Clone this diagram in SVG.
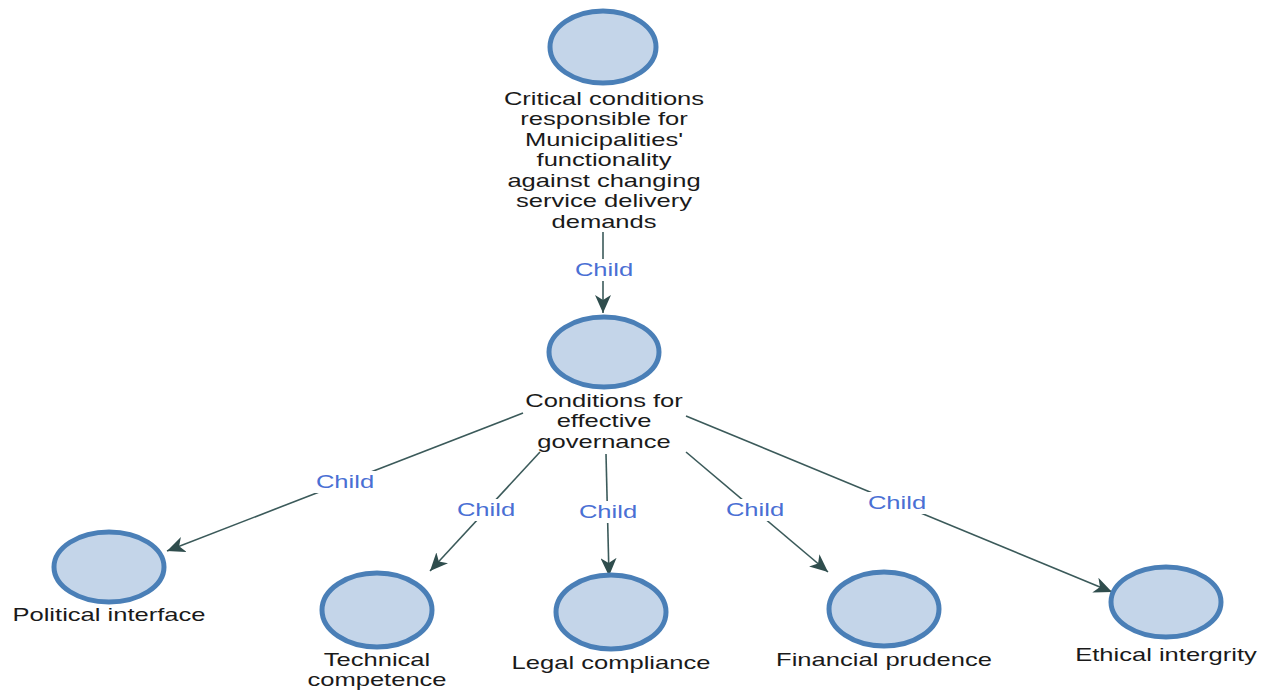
<svg xmlns="http://www.w3.org/2000/svg" width="1270" height="690" viewBox="0 0 1270 690">
<style>
.node ellipse{fill:#c4d5e9;stroke:#4a7fb7;stroke-width:5}
.lbl{font-family:"Liberation Sans",Arial,sans-serif;font-size:18px;fill:#1a1a1a;text-anchor:middle}
.edge{stroke:#3b5a5a;stroke-width:1.6;fill:none;marker-end:url(#arr)}
.ct{font-family:"Liberation Sans",Arial,sans-serif;font-size:18px;fill:#4a6fd4;text-anchor:middle}
.bg{fill:#ffffff}
</style>
<defs>
<marker id="arr" markerUnits="userSpaceOnUse" markerWidth="20" markerHeight="16" viewBox="0 0 20 16" refX="18" refY="8" orient="auto">
<path d="M0,0 L18,8 L0,16 L5,8 Z" fill="#2f4d4d"/>
</marker>
</defs>
<rect width="1270" height="690" fill="#ffffff"/>
<g id="connectors">
<line class="edge" x1="603" y1="232" x2="603" y2="313"/>
<line class="edge" x1="523" y1="413" x2="167" y2="551"/>
<line class="edge" x1="540" y1="452" x2="430" y2="571"/>
<line class="edge" x1="606" y1="454" x2="609" y2="576"/>
<line class="edge" x1="686" y1="452" x2="828" y2="572"/>
<line class="edge" x1="686" y1="416" x2="1112" y2="592"/>
<rect class="bg" x="572" y="259" width="62" height="22"/>
<rect class="bg" x="314" y="471" width="62" height="22"/>
<rect class="bg" x="455" y="499" width="62" height="22"/>
<rect class="bg" x="577" y="501" width="62" height="22"/>
<rect class="bg" x="724" y="499" width="62" height="22"/>
<rect class="bg" x="866" y="492" width="62" height="22"/>
<g transform="translate(604,0) scale(1.42,1)"><text class="ct" x="0" y="276">Child</text></g>
<g transform="translate(345,0) scale(1.42,1)"><text class="ct" x="0" y="488">Child</text></g>
<g transform="translate(486,0) scale(1.42,1)"><text class="ct" x="0" y="516">Child</text></g>
<g transform="translate(608,0) scale(1.42,1)"><text class="ct" x="0" y="518">Child</text></g>
<g transform="translate(755,0) scale(1.42,1)"><text class="ct" x="0" y="516">Child</text></g>
<g transform="translate(897,0) scale(1.42,1)"><text class="ct" x="0" y="509">Child</text></g>
</g>
<g id="node-root" class="node">
<ellipse cx="603" cy="47" rx="53" ry="36"/>
<g transform="translate(604,0) scale(1.42,1)">
<text class="lbl" x="0" y="105">Critical conditions</text>
<text class="lbl" x="0" y="125.5">responsible for</text>
<text class="lbl" x="0" y="146">Municipalities'</text>
<text class="lbl" x="0" y="166.5">functionality</text>
<text class="lbl" x="0" y="187">against changing</text>
<text class="lbl" x="0" y="207.5">service delivery</text>
<text class="lbl" x="0" y="228">demands</text>
</g>
</g>
<g id="node-governance" class="node">
<ellipse cx="604" cy="352" rx="55" ry="35"/>
<g transform="translate(604,0) scale(1.42,1)">
<text class="lbl" x="0" y="407">Conditions for</text>
<text class="lbl" x="0" y="427.5">effective</text>
<text class="lbl" x="0" y="448">governance</text>
</g>
</g>
<g id="node-political" class="node">
<ellipse cx="109" cy="567" rx="55" ry="35"/>
<g transform="translate(109,0) scale(1.42,1)"><text class="lbl" x="0" y="621">Political interface</text></g>
</g>
<g id="node-technical" class="node">
<ellipse cx="377" cy="610" rx="55" ry="37"/>
<g transform="translate(377,0) scale(1.42,1)">
<text class="lbl" x="0" y="666">Technical</text>
<text class="lbl" x="0" y="686.5">competence</text>
</g>
</g>
<g id="node-legal" class="node">
<ellipse cx="611" cy="612" rx="55" ry="37"/>
<g transform="translate(611,0) scale(1.42,1)"><text class="lbl" x="0" y="669">Legal compliance</text></g>
</g>
<g id="node-financial" class="node">
<ellipse cx="884" cy="609" rx="55" ry="37"/>
<g transform="translate(884,0) scale(1.42,1)"><text class="lbl" x="0" y="666">Financial prudence</text></g>
</g>
<g id="node-ethical" class="node">
<ellipse cx="1166" cy="602" rx="55" ry="35"/>
<g transform="translate(1166,0) scale(1.42,1)"><text class="lbl" x="0" y="661">Ethical intergrity</text></g>
</g>
</svg>
